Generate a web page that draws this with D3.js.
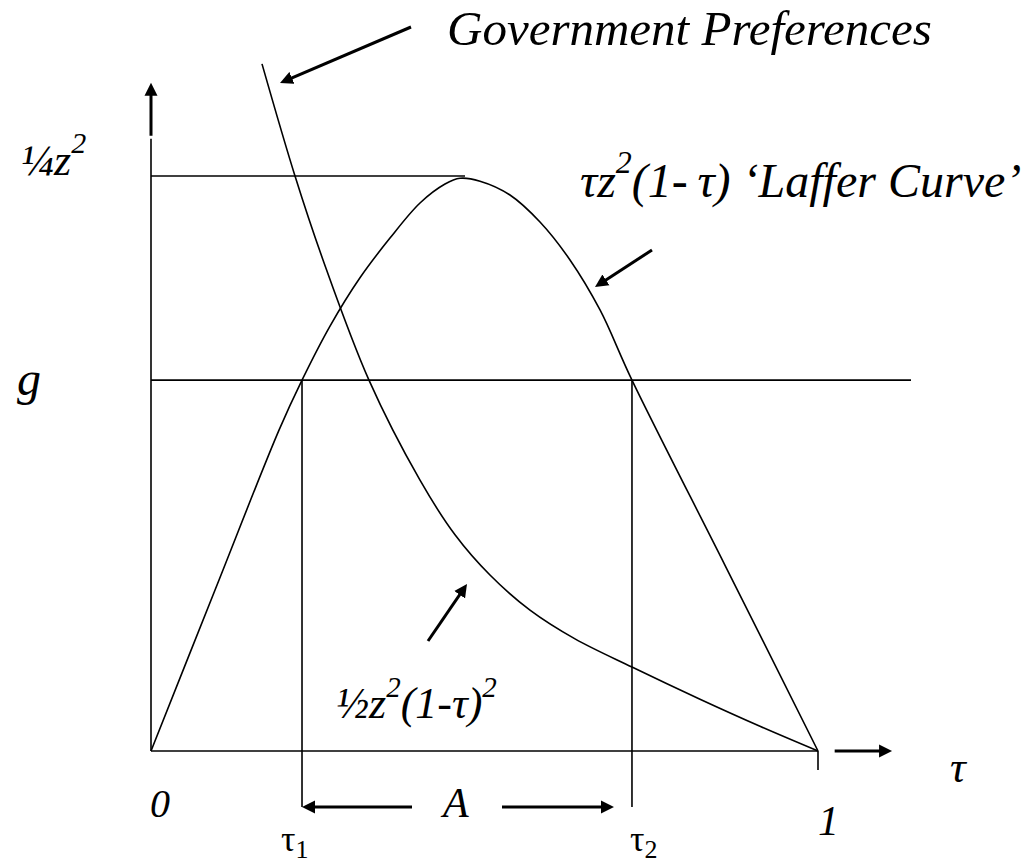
<!DOCTYPE html>
<html>
<head>
<meta charset="utf-8">
<script src="https://cdn.jsdelivr.net/npm/d3@7"></script>
</head>
<body style="margin:0">
<svg id="chart" width="1032" height="864"></svg>
<script>
// ---------- DATA (tau on x, value as a share of 1/4 z^2 on y) ----------
const lafferTau   = [0, 0.096, 0.1919, 0.2264, 0.2684, 0.3133, 0.3583, 0.4033, 0.4408, 0.4633, 0.4933, 0.5382, 0.5832, 0.6282, 0.6732, 0.7211, 0.8606, 1.0];
const lafferValue = [0, 0.280, 0.558, 0.645, 0.739, 0.823, 0.892, 0.953, 0.986, 0.996, 0.991, 0.967, 0.920, 0.854, 0.767, 0.645, 0.323, 0];

const govTau   = [0.1664, 0.2159, 0.2579, 0.3268, 0.4033, 0.4558, 0.5082, 0.5682, 0.6357, 0.7211, 0.8231, 0.9130, 1.0];
const govValue = [1.195, 1.0, 0.854, 0.645, 0.471, 0.376, 0.306, 0.245, 0.195, 0.146, 0.090, 0.043, 0];

const gLevel = 0.645;        // g
const peakLevel = 1.0;       // 1/4 z^2
const peakTau = 0.4633;
const tau1 = 0.2264, tau2 = 0.7211;
const xTickLabels = ["0", "1"];
const yTickLabels = ["\u00BCz", "g"];

// ---------- LAYOUT ----------
const svg = d3.select("#chart");
svg.append("rect").attr("width", 1032).attr("height", 864).attr("fill", "#fff");
const x = d3.scaleLinear().domain([0, 1]).range([151, 818]);
const y = d3.scaleLinear().domain([0, 1]).range([751, 176]);
const yTop = 1.162;          // top of vertical axis arrow
const xEnd = 1.111;          // end of horizontal axis arrow

const defs = svg.append("defs");
defs.append("marker")
  .attr("id", "head").attr("markerUnits", "userSpaceOnUse")
  .attr("viewBox", "0 0 14 14").attr("markerWidth", 14).attr("markerHeight", 14)
  .attr("refX", 13).attr("refY", 7).attr("orient", "auto")
  .append("path").attr("d", "M0,0.5 L13,7 L0,13.5 Z").attr("fill", "#000");

function arrow(x1, y1, x2, y2, w) {
  const dx = x2 - x1, dy = y2 - y1, L = Math.hypot(dx, dy);
  const ex = x2 - dx / L * 8, ey = y2 - dy / L * 8;
  svg.append("line")
    .attr("x1", x1).attr("y1", y1).attr("x2", ex).attr("y2", ey)
    .attr("stroke", "#000").attr("stroke-width", w || 3);
  svg.append("path")
    .attr("d", `M${ex},${ey} L${x2},${y2}`)
    .attr("stroke", "none").attr("fill", "none")
    .attr("marker-end", "url(#head)");
}

const thin = 1.6;

// axes
svg.append("line").attr("x1", x(0)).attr("y1", y(0)).attr("x2", x(0)).attr("y2", y(1.065))
  .attr("stroke", "#000").attr("stroke-width", thin);
arrow(x(0), y(1.07), x(0), y(yTop), 3);
svg.append("line").attr("x1", x(0)).attr("y1", y(0)).attr("x2", x(1)).attr("y2", y(0))
  .attr("stroke", "#000").attr("stroke-width", thin);
arrow(x(1.025), y(0), x(xEnd), y(0), 3);
svg.append("line").attr("x1", x(1)).attr("x2", x(1)).attr("y1", y(0)).attr("y2", y(0) + 19)
  .attr("stroke", "#000").attr("stroke-width", thin);

// horizontal reference lines
svg.append("line").attr("x1", x(0)).attr("x2", x(peakTau) + 5).attr("y1", y(peakLevel)).attr("y2", y(peakLevel))
  .attr("stroke", "#000").attr("stroke-width", thin);
svg.append("line").attr("x1", x(0)).attr("x2", 911).attr("y1", y(gLevel)).attr("y2", y(gLevel))
  .attr("stroke", "#000").attr("stroke-width", thin);

// verticals at tau1, tau2
[tau1, tau2].forEach(t => {
  svg.append("line").attr("x1", x(t)).attr("x2", x(t)).attr("y1", y(gLevel)).attr("y2", y(0) + 56)
    .attr("stroke", "#000").attr("stroke-width", thin);
});

// curves
const line = d3.line().x(d => x(d[0])).y(d => y(d[1])).curve(d3.curveCatmullRom.alpha(0.5));
svg.append("path").datum(lafferTau.map((t, i) => [t, lafferValue[i]]))
  .attr("d", line).attr("fill", "none").attr("stroke", "#000").attr("stroke-width", thin);
svg.append("path").datum(govTau.map((t, i) => [t, govValue[i]]))
  .attr("d", line).attr("fill", "none").attr("stroke", "#000").attr("stroke-width", thin);

// annotation arrows
arrow(411, 27, 280, 83, 3);      // Government Preferences
arrow(652, 250, 595, 287, 3);    // Laffer Curve
arrow(428, 641, 467, 584, 3);    // 1/2 z^2 (1-tau)^2
arrow(412, y(0) + 56, x(tau1), y(0) + 56, 3);
arrow(502, y(0) + 56, x(tau2) - 18, y(0) + 56, 3);

// ---------- TEXT ----------
function label(px, py, size, italic) {
  return svg.append("text").attr("x", px).attr("y", py)
    .attr("font-family", "Liberation Serif")
    .style("font-family", "'Liberation Serif'")
    .style("white-space", "pre")
    .attr("font-size", size)
    .attr("font-style", italic ? "italic" : "normal");
}
function sup(t, txt, size, up) {
  t.append("tspan").attr("font-size", size).attr("dy", -up).text(txt);
}
function back(t, txt, up) {
  t.append("tspan").attr("dy", up).text(txt);
}

let t = label(21, 175, 44, true).text(yTickLabels[0]);
sup(t, "2", 30, 22);
label(17, 395, 48, true).text(yTickLabels[1]);

label(150, 817, 40, true).text(xTickLabels[0]);
label(818, 835, 42, true).text(xTickLabels[1]);
label(950, 782, 44, true).text("\u03C4");
label(443, 817, 42, true).text("A");

t = label(x(tau1) - 21, 851, 36, false).text("\u03C4");
t.append("tspan").attr("font-size", 26).attr("dy", 7).text("1");
t = label(x(tau2) - 2, 851, 36, false).text("\u03C4");
t.append("tspan").attr("font-size", 26).attr("dy", 7).text("2");

label(447, 45, 49, true).text("Government Preferences");

t = label(580, 197, 48, true).text("\u03C4z");
sup(t, "2", 32, 24);
back(t, "(1-\u2009\u03C4) \u2018Laffer Curve\u2019", 24);

t = label(336, 718, 44, true).text("\u00BDz");
sup(t, "2", 29, 21);
back(t, "(1-\u03C4)", 21);
sup(t, "2", 29, 21);
</script>
</body>
</html>
